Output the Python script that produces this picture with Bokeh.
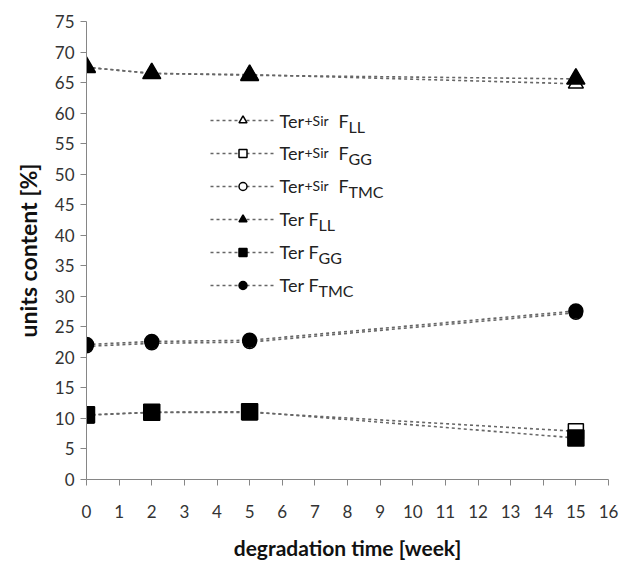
from bokeh.plotting import figure
from bokeh.models import Range1d, LinearAxis, Legend, LegendItem, Label, FixedTicker
from bokeh.embed import file_html
from bokeh.resources import INLINE

weeks = [0, 2, 5, 15]
tersir_LL = [67.5, 66.5, 66.3, 64.8]
tersir_GG = [10.5, 11.0, 11.0, 7.9]
tersir_TMC = [21.8, 22.3, 22.5, 27.3]
ter_LL = [67.5, 66.5, 66.2, 65.6]
ter_GG = [10.6, 11.0, 11.1, 6.8]
ter_TMC = [22.1, 22.6, 22.8, 27.6]

x_ticks = list(range(0, 17))
y_ticks = list(range(0, 80, 5))

# legend text pieces: (prefix, small part, F, subscript)
legend_rows = [
    ("Ter", "+Sir", "F", "LL"),
    ("Ter", "+Sir", "F", "GG"),
    ("Ter", "+Sir", "F", "TMC"),
    ("Ter", "", "F", "LL"),
    ("Ter", "", "F", "GG"),
    ("Ter", "", "F", "TMC"),
]

FONT = "Lato"
W, H = 620, 565
p = figure(width=W, height=H, output_backend="svg", toolbar_location=None,
           x_range=Range1d(0, 16), y_range=Range1d(0, 75),
           min_border_left=86, min_border_right=12, min_border_top=21, min_border_bottom=86,
           x_axis_location=None, y_axis_location=None)
p.outline_line_color = None
p.grid.visible = False
p.background_fill_color = "white"
p.border_fill_color = "white"

axcol = "#868686"
xaxis = LinearAxis(ticker=FixedTicker(ticks=x_ticks), axis_label="degradation time [week]")
yaxis = LinearAxis(ticker=FixedTicker(ticks=y_ticks), axis_label="units content [%]")
for ax in (xaxis, yaxis):
    ax.axis_line_color = axcol
    ax.major_tick_line_color = axcol
    ax.minor_tick_line_color = None
    ax.major_tick_in = 0
    ax.major_tick_out = 6
    ax.major_label_text_font = FONT
    ax.major_label_text_font_size = "17px"
    ax.major_label_text_color = "#333333"
    ax.axis_label_text_font = FONT
    ax.axis_label_text_font_style = "bold"
    ax.axis_label_text_color = "#111111"
xaxis.axis_label_text_font_size = "21px"
yaxis.axis_label_text_font_size = "23px"
xaxis.major_label_standoff = 19
xaxis.axis_label_standoff = 14
yaxis.major_label_standoff = 6
yaxis.axis_label_standoff = 10
p.add_layout(xaxis, "below")
p.add_layout(yaxis, "left")

lc = "#666666"
dash = "3 3"
series = [
    (tersir_LL, "triangle", "white", 15),
    (tersir_GG, "square", "white", 15),
    (tersir_TMC, "circle", "white", 13),
    (ter_LL, "triangle", "black", 18),
    (ter_GG, "square", "black", 16),
    (ter_TMC, "circle", "black", 14),
]
items = []
for vals, marker, fill, size in series:
    lr = p.line(weeks, vals, line_color=lc, line_dash=dash, line_width=1.6)
    sr = p.scatter(weeks, vals, marker=marker, size=size, fill_color=fill,
                   line_color="black", line_width=1.5)
    items.append(LegendItem(label=" ", renderers=[lr, sr]))

frame_left, frame_bottom = 86, 479
legend = Legend(items=items, location=(210 - frame_left, frame_bottom - 295),
                glyph_width=65, glyph_height=20,
                label_height=20, label_width=10, spacing=13, padding=0, margin=0,
                border_line_color=None, background_fill_alpha=0,
                label_text_font_size="10px", label_standoff=2)
p.add_layout(legend, "center")

# legend text (screen positions relative to frame)
row_y = [120, 152, 185, 218, 251, 284]
for i, (a, b, f, sub) in enumerate(legend_rows):
    cy = frame_bottom - row_y[i]
    x0 = 279 - frame_left
    p.add_layout(Label(x=x0, y=cy, x_units="screen", y_units="screen", text=a,
                       text_font=FONT, text_font_size="18px", text_baseline="middle",
                       text_color="#222222"))
    if b:
        p.add_layout(Label(x=x0 + 25, y=cy, x_units="screen", y_units="screen", text=b,
                           text_font=FONT, text_font_size="14px", text_baseline="middle",
                           text_color="#222222"))
        fx = x0 + 59
    else:
        fx = x0 + 29
    p.add_layout(Label(x=fx, y=cy, x_units="screen", y_units="screen", text=f,
                       text_font=FONT, text_font_size="18px", text_baseline="middle",
                       text_color="#222222"))
    p.add_layout(Label(x=fx + 10, y=cy - 6, x_units="screen", y_units="screen", text=sub,
                       text_font=FONT, text_font_size="16px", text_baseline="middle",
                       text_color="#222222"))

open("out.html", "w").write(file_html(p, INLINE))
